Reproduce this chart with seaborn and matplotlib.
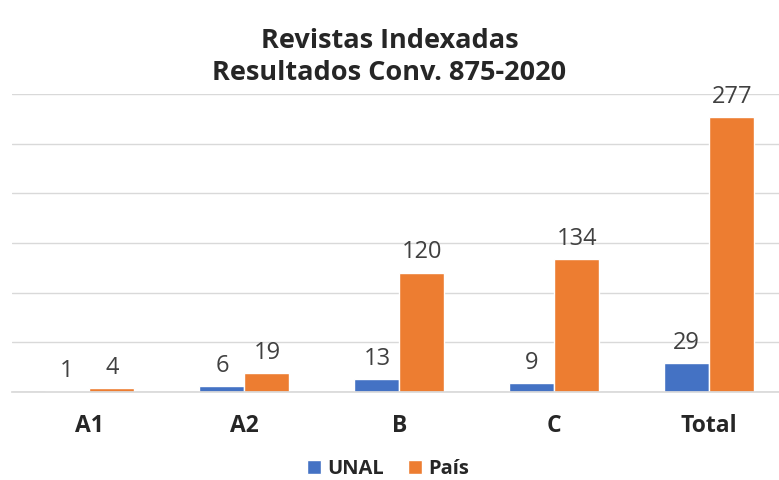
import matplotlib
matplotlib.use("Agg")
import matplotlib.pyplot as plt
import seaborn as sns
import pandas as pd

categories = ["A1", "A2", "B", "C", "Total"]
unal = [1, 6, 13, 9, 29]
pais = [4, 19, 120, 134, 277]
series_names = ["UNAL", "País"]
colors = ["#4472C4", "#ED7D31"]

df = pd.DataFrame({
    "cat": categories * 2,
    "serie": [series_names[0]] * len(categories) + [series_names[1]] * len(categories),
    "val": unal + pais,
})

sns.set_theme(style="white")
plt.rcParams["font.family"] = ["Open Sans", "DejaVu Sans"]

fig = plt.figure(figsize=(7.79, 4.8), dpi=100)
ax = fig.add_axes([12 / 779, 88 / 480, 1 - 12 / 779, 298 / 480])

sns.barplot(data=df, x="cat", y="val", hue="serie", palette=colors,
            width=0.58, gap=0, saturation=1, ax=ax, legend=True)

ax.set_ylim(0, 300)
ax.set_xlim(-0.5, 4.45)
ax.set_yticks(range(0, 301, 50))
ax.yaxis.grid(True, color="#D9D9D9", linewidth=1)
ax.set_axisbelow(True)
ax.tick_params(axis="y", left=False, labelleft=False)
ax.tick_params(axis="x", bottom=False, length=0, pad=16)
for lbl in ax.get_xticklabels():
    lbl.set_fontsize(16.5)
    lbl.set_fontweight("bold")
    lbl.set_color("#262626")
for s in ["top", "right", "left"]:
    ax.spines[s].set_visible(False)
ax.spines["bottom"].set_color("#D9D9D9")
ax.set_xlabel("")
ax.set_ylabel("")

for cont in ax.containers:
    ax.bar_label(cont, padding=6, fontsize=17, color="#404040")

ax.legend(loc="center", bbox_to_anchor=(0.49, -0.258), ncol=2, frameon=False,
          prop={"weight": "bold", "size": 14.5}, handlelength=0.7, handleheight=0.7,
          handletextpad=0.3, columnspacing=1.2, borderpad=0.1)

fig.text(0.5, 0.915, "Revistas Indexadas", ha="center", va="center",
         fontsize=19.5, fontweight="bold", color="#262626")
fig.text(0.5, 0.848, "Resultados Conv. 875-2020", ha="center", va="center",
         fontsize=19.5, fontweight="bold", color="#262626")

fig.savefig("out.png", dpi=100)
